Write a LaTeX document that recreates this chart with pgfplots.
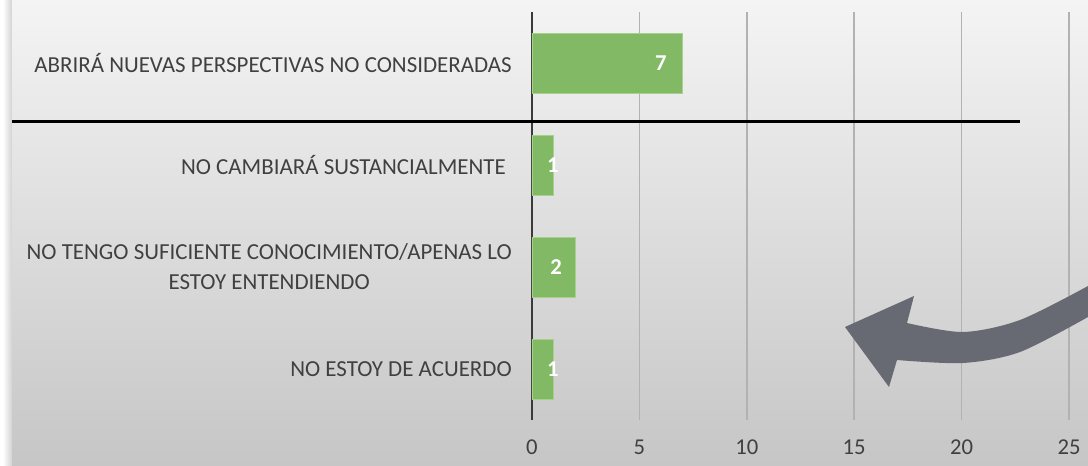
\documentclass[border=0pt]{standalone}
\usepackage{pgfplots}
\pgfplotsset{compat=1.18}
\usepackage{fontspec}
\setmainfont{Carlito}
\definecolor{barfill}{HTML}{82B964}
\definecolor{baredge}{HTML}{A8D08D}
\definecolor{gridc}{HTML}{B2B2B2}
\definecolor{txt}{HTML}{404040}
\definecolor{axc}{HTML}{3A3A3A}
\definecolor{arrowc}{HTML}{676A72}
\definecolor{bgtop}{HTML}{F4F4F4}
\definecolor{bgbot}{HTML}{C6C6C6}
\pgfplotstableread{
x y
1 0
2 1
1 2
7 3
}\bars
\pgfplotstableread{
x y l
0.97 0 1
1.12 1 2
0.97 2 1
6.0 3 7
}\labs
\begin{document}
\begin{tikzpicture}
\useasboundingbox (-399pt,-33.75pt) rectangle (417pt,315pt);
\fill[white] (-399pt,-33.75pt) rectangle (417pt,315pt);
\shade[shading angle=-20, top color=bgtop, bottom color=bgbot] (-390pt,-33.75pt) rectangle (417pt,315pt);
\shade[left color=white, right color=gray!35] (-397pt,-33.75pt) rectangle (-390pt,315pt);
\begin{axis}[
  at={(0,0)}, anchor=south west,
  scale only axis, width=402.75pt, height=306pt,
  xmin=0, xmax=25, ymin=-0.5, ymax=3.5,
  xtick={0,5,10,15,20,25},
  ytick={0,1,2,3},
  yticklabels={NO ESTOY DE ACUERDO, {NO TENGO SUFICIENTE CONOCIMIENTO/APENAS LO\\ESTOY ENTENDIENDO}, {NO CAMBIARÁ SUSTANCIALMENTE\hspace*{4.5pt}}, ABRIRÁ NUEVAS PERSPECTIVAS NO CONSIDERADAS},
  /pgf/number format/assume math mode=true,
  major tick length=0pt,
  tick style={draw=none},
  axis x line*=bottom,
  axis y line*=left,
  x axis line style={draw=none},
  y axis line style={draw=axc, line width=2.2pt},
  xmajorgrids,
  grid style={draw=gridc, line width=1.1pt},
  xticklabel style={font=\fontsize{17}{20}\selectfont, text=txt, inner sep=0pt, anchor=north, yshift=-15pt},
  yticklabel style={font=\fontsize{17.2}{22.5}\selectfont, text=txt, align=center, inner sep=0pt, anchor=east, xshift=-15pt},
  clip=false,
]
\addplot[xbar, bar width=45pt, fill=barfill, draw=baredge, line width=0.6pt] table[x=x, y=y] {\bars};
\addplot[only marks, mark=none, nodes near coords, point meta=explicit symbolic,
  nodes near coords style={text=white, font=\fontsize{17}{20}\selectfont\bfseries, anchor=center, inner sep=0pt}]
  table[x=x, y=y, meta=l] {\labs};
\end{axis}
\draw[black, line width=2.25pt] (-390pt,224.25pt) -- (366pt,224.25pt);
\fill[arrowc] (234.75pt,69.75pt) -- (286.5pt,93pt)
  -- plot[smooth] coordinates {(281.25pt,72.75pt) (323.25pt,66pt) (366pt,75pt) (417pt,100.5pt)}
  -- plot[smooth] coordinates {(417pt,77.25pt) (366pt,51pt) (323.25pt,42.75pt) (273.75pt,45pt)}
  -- (267.75pt,24.75pt) -- cycle;
\end{tikzpicture}
\end{document}
